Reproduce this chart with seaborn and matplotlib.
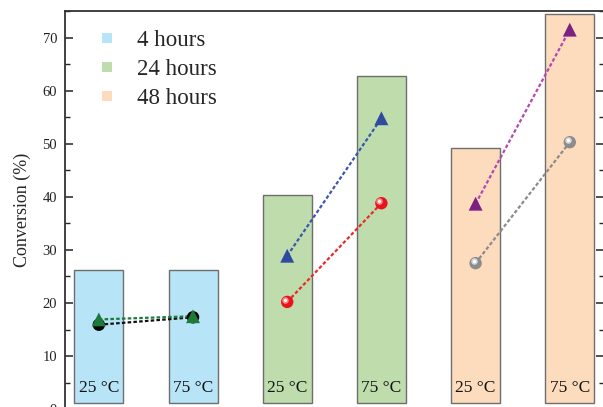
import numpy as np
import pandas as pd
import matplotlib
matplotlib.use("Agg")
import matplotlib.pyplot as plt
from matplotlib.lines import Line2D
from matplotlib.ticker import MultipleLocator
from matplotlib.transforms import offset_copy
import seaborn as sns

# ---- data -------------------------------------------------------------
durations = ["4 hours", "4 hours", "24 hours", "24 hours", "48 hours", "48 hours"]
temperatures = ["25 °C", "75 °C", "25 °C", "75 °C", "25 °C", "75 °C"]
bar_values = [26.2, 26.2, 40.3, 62.7, 49.2, 74.5]
circle_values = [15.9, 17.3, 20.2, 38.8, 27.5, 50.3]
triangle_values = [16.9, 17.5, 28.9, 54.8, 38.7, 71.5]
legend_labels = ["4 hours", "24 hours", "48 hours"]
bar_base = 1.2

# ---- style ------------------------------------------------------------
sns.set_style("ticks")
plt.rcParams["font.family"] = ["Liberation Serif", "DejaVu Serif"]
plt.rcParams["mathtext.fontset"] = "stix"

bar_colors = {"4 hours": "#b8e4f7", "24 hours": "#bedcac", "48 hours": "#fddcbe"}
circle_colors = ["#000000", "#000000", "#e8141c", "#e8141c", "#8c8c8c", "#8c8c8c"]
circle_line_colors = ["#111111", "#e82a2a", "#8a8a8a"]
triangle_colors = ["#1d7a3a", "#1d7a3a", "#2f4b9f", "#2f4b9f", "#7b2182", "#7b2182"]
triangle_line_colors = ["#1d7a3a", "#3a56b0", "#b447b4"]

df = pd.DataFrame({
    "pos": np.arange(len(bar_values), dtype=float),
    "height": np.array(bar_values) - bar_base,
    "duration": durations,
    "temp": temperatures,
    "circle": circle_values,
    "triangle": triangle_values,
})

fig = plt.figure(figsize=(6.03, 4.07), dpi=100)
ax = fig.add_axes([0.1086, -0.0052, 0.893, 0.978])

sns.barplot(data=df, x="pos", y="height", hue="duration", palette=bar_colors,
            native_scale=True, dodge=False, width=0.52, bottom=bar_base,
            edgecolor="#6e6e6e", linewidth=1.0, legend=False, ax=ax,
            errorbar=None, saturation=1)

# temperature labels inside each bar
for p, t in zip(df["pos"], df["temp"]):
    ax.text(p, 3.3, t, ha="center", va="baseline", fontsize=12.5, color="#111111")

# dotted connectors for each duration group
dots = (0, (1.6, 1.0))
for g in range(3):
    sub = df.iloc[2 * g:2 * g + 2]
    sns.lineplot(x=sub["pos"].values, y=sub["circle"].values, color=circle_line_colors[g],
                 linestyle=dots, linewidth=1.6, ax=ax, legend=False)
    sns.lineplot(x=sub["pos"].values, y=sub["triangle"].values, color=triangle_line_colors[g],
                 linestyle=dots, linewidth=1.6, ax=ax, legend=False)

# spheres (with a small highlight) and triangles
sns.scatterplot(x=df["pos"], y=df["circle"], c=circle_colors, s=80, marker="o",
                linewidth=0, ax=ax, legend=False, zorder=5)
hl = offset_copy(ax.transData, fig=fig, x=-1.4, y=1.4, units="points")
shine = [(i, "#ff8a8a") for i in (2, 3)] + [(i, "#d8d8d8") for i in (4, 5)]
for i, col in shine:
    ax.scatter(df["pos"][i], df["circle"][i], s=22, color=col, linewidth=0,
               transform=hl, zorder=6)
    ax.scatter(df["pos"][i], df["circle"][i], s=5, color="white", linewidth=0,
               transform=hl, zorder=7)
sns.scatterplot(x=df["pos"], y=df["triangle"], c=triangle_colors, s=100, marker="^",
                linewidth=0, ax=ax, legend=False, zorder=8)

# axes, ticks, spines
ax.set_xlim(-0.354, 5.363)
ax.set_ylim(0, 75)
ax.set_xlabel("")
ax.set_xticks([])
ax.set_ylabel("Conversion (%)", fontsize=13, labelpad=8)
ax.yaxis.set_major_locator(MultipleLocator(10))
ax.yaxis.set_minor_locator(MultipleLocator(5))
ax.tick_params(axis="y", which="major", direction="in", length=6, width=1.1,
               left=True, right=True, labelsize=10.5, pad=6, colors="#222222")
ax.tick_params(axis="y", which="minor", direction="in", length=3.5, width=1.0,
               left=True, right=True)
for side in ["left", "right", "top", "bottom"]:
    ax.spines[side].set_visible(True)
    ax.spines[side].set_color("#333333")
    ax.spines[side].set_linewidth(1.3)

# legend
handles = [Line2D([], [], linestyle="none", marker="s", markersize=7.5,
                  markerfacecolor=bar_colors[k], markeredgewidth=0) for k in legend_labels]
ax.legend(handles, legend_labels, loc="upper left", bbox_to_anchor=(0.055, 0.953),
          frameon=False, fontsize=16.5, handlelength=1.0, handletextpad=0.85,
          labelspacing=0.36, borderpad=0, borderaxespad=0)

fig.savefig("out.png", dpi=100)
